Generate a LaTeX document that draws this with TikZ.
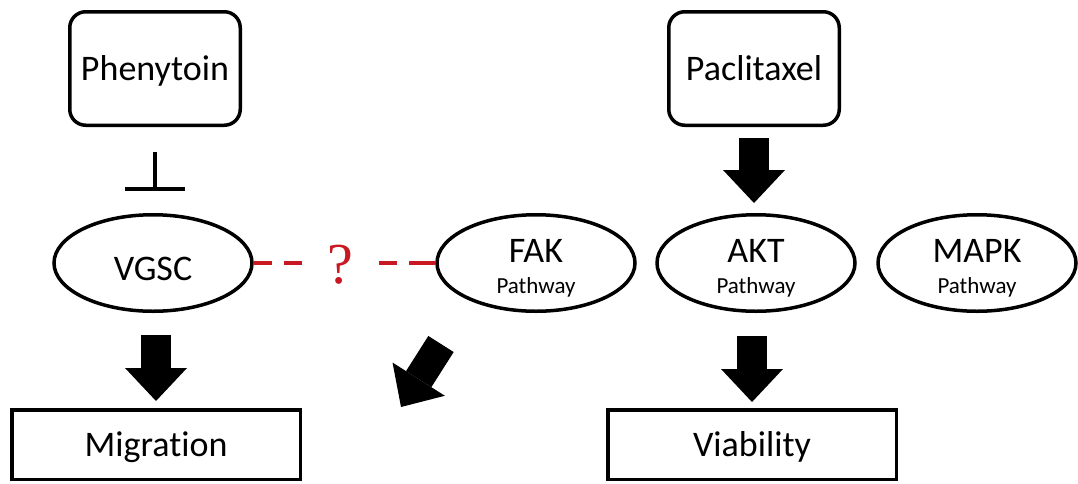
\documentclass[tikz,border=0pt]{standalone}
\usepackage{fontspec}
\setmainfont{Carlito}[Ligatures={NoCommon}]
\newfontfamily\qfont{Liberation Serif}
\usetikzlibrary{arrows.meta,shapes.geometric,calc}
\definecolor{qred}{RGB}{200,25,35}
\begin{document}
\begin{tikzpicture}[x=1pt,y=-1pt,
  bigfont/.style={font=\fontsize{36}{43}\selectfont},
  drugbox/.style={draw, line width=3.5pt, rounded corners=16pt, minimum width=170.5pt,
    minimum height=113.5pt, inner sep=0pt, bigfont, text height=23pt, text depth=0pt},
  outbox/.style={draw, line width=3.5pt, minimum width=288.5pt, minimum height=69.5pt,
    inner sep=0pt, bigfont, text height=23pt, text depth=0pt},
  oval/.style={draw, ellipse, line width=3.5pt, minimum width=198pt, minimum height=96.5pt, inner sep=0pt},
  lbl/.style={bigfont, inner sep=0pt, anchor=base},
  sublbl/.style={font=\fontsize{23}{28}\selectfont, inner sep=0pt, anchor=base},
  blockarrow/.style={line width=30pt, -{Triangle[length=33pt, width=62pt, line width=0pt]}},
  inhib/.style={line width=4pt, -{Bar[width=60pt, line width=4pt]}},
  qdash/.style={draw=qred, line width=4pt, dash pattern=on 18pt off 12pt},
  qdashr/.style={draw=qred, line width=4pt, dash pattern=on 26pt off 12pt on 18pt off 20pt},
  qmark/.style={text=qred, font=\qfont\fontsize{58}{60}\selectfont, minimum width=72pt, inner sep=0pt}
]
\useasboundingbox (0,0) rectangle (1078,483);

% drugs
\node[drugbox] (phen) at (155,68.5) {Phenytoin};
\node[drugbox] (pacl) at (754,68.5) {Paclitaxel};

% ovals
\node[oval] (vgsc) at (153,263) {};
\node[lbl] (vgsct) at (153,280) {VGSC};

\node[oval] (fak) at (536,263) {};
\node[lbl] (fakt) at (536,262) {FAK};
\node[sublbl] (fakp) at (536,293) {Pathway};

\node[oval] (akt) at (756,263) {};
\node[lbl] (aktt) at (756,262) {AKT};
\node[sublbl] (aktp) at (756,293) {Pathway};

\node[oval] (mapk) at (977,263) {};
\node[lbl] (mapkt) at (977,262) {MAPK};
\node[sublbl] (mapkp) at (977,293) {Pathway};

% outcomes
\node[outbox] (mig) at (156,444.5) {Migration};
\node[outbox] (viab) at (752,444.5) {Viability};

% question link
\node[qmark] (q) at (340,265) {?};
\draw[qdash] (vgsc.east) -- (vgsc.east -| q.west);
\draw[qdashr] (fak.west) -- (fak.west -| q.east);

% inhibition
\draw[inhib, shorten <=25pt, shorten >=22pt] (phen.south) -- (phen.south |- vgsc.north);

% block arrows
\draw[blockarrow, shorten <=11pt, shorten >=10pt] (pacl.south) -- (pacl.south |- akt.north);
\draw[blockarrow, shorten <=22pt, shorten >=7pt] (vgsc.south -| mig.north) -- (mig.north);
\draw[blockarrow, shorten <=23pt, shorten >=6pt] (akt.south -| viab.north) -- (viab.north);
\coordinate (dA) at (441,344);
\coordinate (dB) at (401,407);
\draw[blockarrow] (dA) -- (dB);
\end{tikzpicture}
\end{document}
